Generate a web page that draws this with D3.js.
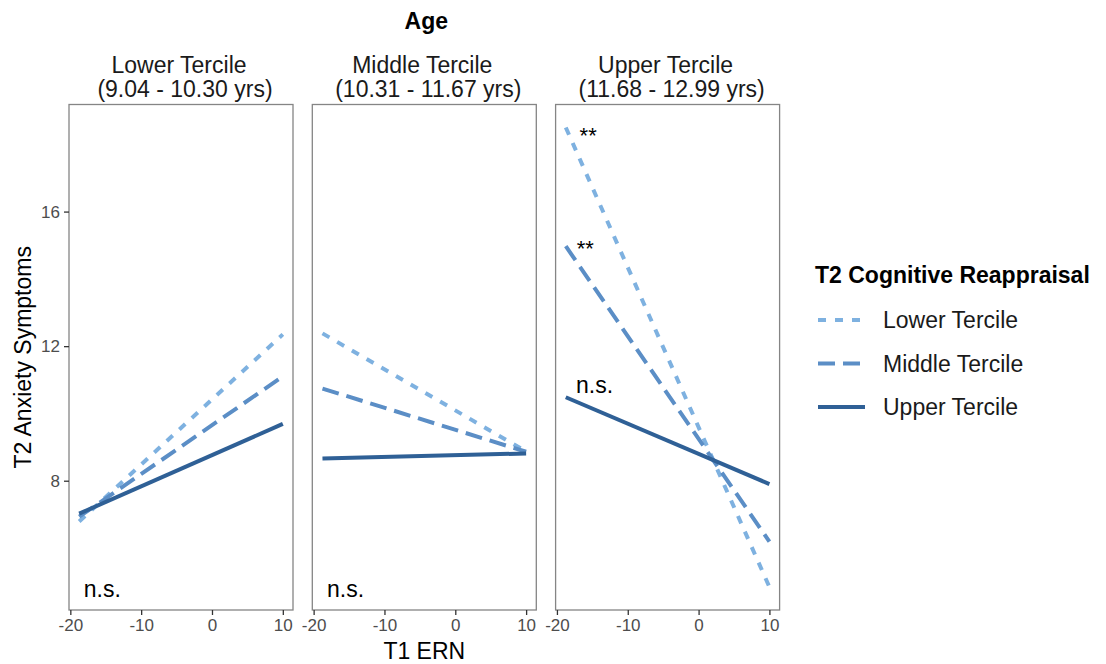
<!DOCTYPE html>
<html>
<head>
<meta charset="utf-8">
<script src="https://cdn.jsdelivr.net/npm/d3@7"></script>
<style>
  body { margin: 0; background: #fff; }
  svg { display: block; font-family: "Liberation Sans", Arial, sans-serif; }
</style>
</head>
<body>
<svg id="chart" width="1106" height="664"></svg>
<script>
// panels = age terciles, lines = T2 reappraisal terciles
const ageLabels = ["Lower Tercile", "Middle Tercile", "Upper Tercile"];
const ageRanges = ["(9.04 - 10.30 yrs)", "(10.31 - 11.67 yrs)", "(11.68 - 12.99 yrs)"];
const reappraisalLevels = ["Lower Tercile", "Middle Tercile", "Upper Tercile"];

// T1 ERN range for the predicted lines
const ernRange = [-18.75, 10];

// predicted T2 anxiety at [ern min, ern max], one pair per age panel
const lowerReappraisal  = [[6.79, 12.35], [12.38, 8.87], [18.50, 4.84]];
const middleReappraisal = [[6.93, 11.10], [10.74, 8.86], [14.97, 6.19]];
const upperReappraisal  = [[7.02, 9.69],  [8.66, 8.81],  [10.48, 7.90]];

const xTicks = [-20, -10, 0, 10];
const yTicks = [8, 12, 16];

// significance labels: panel index, x (ERN), y (anxiety)
const sigLabels = [
  { panel: 0, x: -18.1, y: 4.55, text: "n.s." },
  { panel: 1, x: -18.1, y: 4.55, text: "n.s." },
  { panel: 2, x: -16.8, y: 18.05, text: "**" },
  { panel: 2, x: -17.2, y: 14.68, text: "**" },
  { panel: 2, x: -17.3, y: 10.62, text: "n.s." }
];

const seriesVals = [lowerReappraisal, middleReappraisal, upperReappraisal];
const colors = ["#7eb1e0", "#5b8ec6", "#2f6096"];
const dashes = ["8,9", "17,8", null];

const svg = d3.select("#chart");
const panelW = 224, gap = 19.3, left0 = 69, panelTop = 104.5, panelBottom = 610;
const plainNum = d => String(d);   // keep ascii hyphen like R output

// ggplot-style 5% expansion
const allY = seriesVals.flat(2);
const yMin = d3.min(allY), yMax = d3.max(allY);
const yPad = (yMax - yMin) * 0.05;
const xPad = (ernRange[1] - ernRange[0]) * 0.05;

const y = d3.scaleLinear()
  .domain([yMin - yPad, yMax + yPad])
  .range([panelBottom, panelTop]);

ageLabels.forEach((lab, p) => {
  const px = left0 + p * (panelW + gap);
  const x = d3.scaleLinear()
    .domain([ernRange[0] - xPad, ernRange[1] + xPad])
    .range([px, px + panelW]);

  const g = svg.append("g");

  // strip labels
  const cx = px + panelW / 2;
  g.append("text").attr("x", cx - 2).attr("y", 73)
    .attr("text-anchor", "middle").attr("font-size", 23).attr("fill", "#1a1a1a")
    .text(lab);
  g.append("text").attr("x", cx + 4).attr("y", 97)
    .attr("text-anchor", "middle").attr("font-size", 23).attr("fill", "#1a1a1a")
    .text(ageRanges[p]);

  // lines
  const line = d3.line().x(d => x(d[0])).y(d => y(d[1]));
  seriesVals.forEach((vals, s) => {
    const pts = [[ernRange[0], vals[p][0]], [ernRange[1], vals[p][1]]];
    g.append("path")
      .attr("d", line(pts))
      .attr("fill", "none")
      .attr("stroke", colors[s])
      .attr("stroke-width", 4)
      .attr("stroke-dasharray", dashes[s]);
  });

  // border
  g.append("rect")
    .attr("x", px).attr("y", panelTop)
    .attr("width", panelW).attr("height", panelBottom - panelTop)
    .attr("fill", "none").attr("stroke", "#858585").attr("stroke-width", 1.3);

  // x axis
  const xa = g.append("g").attr("transform", `translate(0,${panelBottom})`)
    .call(d3.axisBottom(x).tickValues(xTicks).tickFormat(plainNum).tickSize(5).tickPadding(4));
  xa.select(".domain").remove();
  xa.selectAll("line").attr("stroke", "#333").attr("stroke-width", 1.3);
  xa.selectAll("text").attr("font-size", 17).attr("fill", "#4d4d4d")
    .attr("font-family", "Liberation Sans, Arial, sans-serif");

  if (p === 0) {
    const ya = g.append("g").attr("transform", `translate(${px},0)`)
      .call(d3.axisLeft(y).tickValues(yTicks).tickFormat(plainNum).tickSize(5).tickPadding(4));
    ya.select(".domain").remove();
    ya.selectAll("line").attr("stroke", "#333").attr("stroke-width", 1.3);
    ya.selectAll("text").attr("font-size", 17).attr("fill", "#4d4d4d")
      .attr("font-family", "Liberation Sans, Arial, sans-serif");
  }

  // significance annotations
  sigLabels.filter(d => d.panel === p).forEach(d => {
    g.append("text")
      .attr("x", x(d.x)).attr("y", y(d.y))
      .attr("font-size", d.text === "**" ? 22 : 23)
      .attr("fill", "#000")
      .text(d.text);
  });
});

// overall titles
const midX = left0 + 1.5 * panelW + gap;
svg.append("text").attr("x", midX + 2).attr("y", 29)
  .attr("text-anchor", "middle").attr("font-size", 23).attr("font-weight", "bold")
  .text("Age");
svg.append("text").attr("x", midX).attr("y", 659)
  .attr("text-anchor", "middle").attr("font-size", 23)
  .text("T1 ERN");
svg.append("text")
  .attr("transform", `translate(31,${(panelTop + panelBottom) / 2}) rotate(-90)`)
  .attr("text-anchor", "middle").attr("font-size", 23)
  .text("T2 Anxiety Symptoms");

// legend
const lg = svg.append("g").attr("transform", "translate(815,0)");
lg.append("text").attr("x", 0).attr("y", 283)
  .attr("font-size", 23).attr("font-weight", "bold")
  .text("T2 Cognitive Reappraisal");
reappraisalLevels.forEach((lab, s) => {
  const ly = 320 + s * 43.5;
  lg.append("line")
    .attr("x1", 3).attr("x2", 50).attr("y1", ly).attr("y2", ly)
    .attr("stroke", colors[s]).attr("stroke-width", 4)
    .attr("stroke-dasharray", dashes[s]);
  lg.append("text").attr("x", 68).attr("y", ly).attr("dy", "0.35em")
    .attr("font-size", 23).attr("fill", "#1a1a1a")
    .text(lab);
});
</script>
</body>
</html>
